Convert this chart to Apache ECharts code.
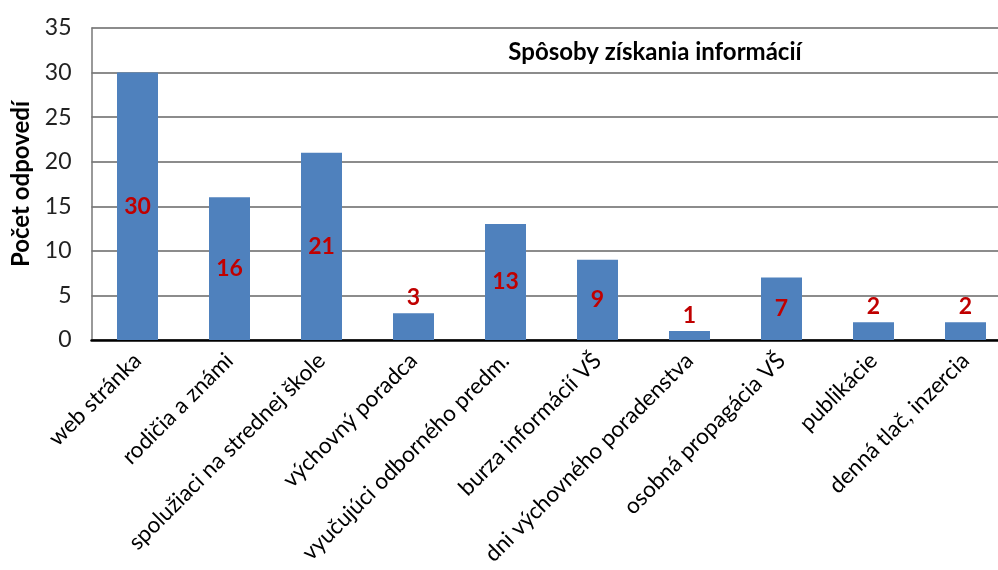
<!DOCTYPE html>
<html>
<head>
<meta charset="utf-8">
<script src="https://cdn.jsdelivr.net/npm/echarts@6/dist/echarts.min.js"></script>
<style>html,body{margin:0;padding:0;background:#fff;overflow:hidden}#c{width:998px;height:570px}</style>
</head>
<body>
<div id="c"></div>
<script>
const categories = ["web stránka","rodičia a známi","spolužiaci na strednej škole","výchovný poradca","vyučujúci odborného predm.","burza informácií VŠ","dni výchovného poradenstva","osobná propagácia VŠ","publikácie","denná tlač, inzercia"];
const values = [30,16,21,3,13,9,1,7,2,2];
const yTicks = {min:0,max:35,interval:5};
const titleText = "Spôsoby získania informácií";
const yName = "Počet odpovedí";

const FONT = "Lato, 'Open Sans', sans-serif";
const chart = echarts.init(document.getElementById('c'));
chart.setOption({
  animation:false,
  title:{text:titleText,left:650,top:35,textAlign:'center',textStyle:{fontFamily:FONT,fontSize:24,fontWeight:'bold',color:'#000'}},
  grid:{left:91.5,width:920,top:28,height:312,containLabel:false,outerBoundsMode:'none'},
  xAxis:{type:'category',data:categories,
    axisLine:{lineStyle:{color:'#000',width:2.5}},
    axisTick:{show:false},
    axisLabel:{rotate:45,interval:0,margin:17,fontFamily:FONT,fontSize:22.5,color:'#000'}},
  yAxis:{type:'value',min:yTicks.min,max:yTicks.max,interval:yTicks.interval,
    name:yName,nameLocation:'middle',nameGap:58,nameRotate:90,
    nameTextStyle:{fontFamily:FONT,fontSize:24,fontWeight:'bold',color:'#000'},
    axisLine:{show:true,lineStyle:{color:'#777',width:1.5}},
    axisTick:{show:false},
    axisLabel:{margin:20,fontFamily:FONT,fontSize:23,color:'#222'},
    splitLine:{lineStyle:{color:'#8c8c8c',width:2}}},
  series:[{type:'bar',barWidth:41,
    data:values.map(v=>({value:v,label:{position: v<5 ? 'top' : 'inside',distance:4}})),
    itemStyle:{color:'#4F81BD'},
    label:{show:true,fontFamily:FONT,fontSize:23,fontWeight:'bold',color:'#C00000'}}]
});
</script>
</body>
</html>
